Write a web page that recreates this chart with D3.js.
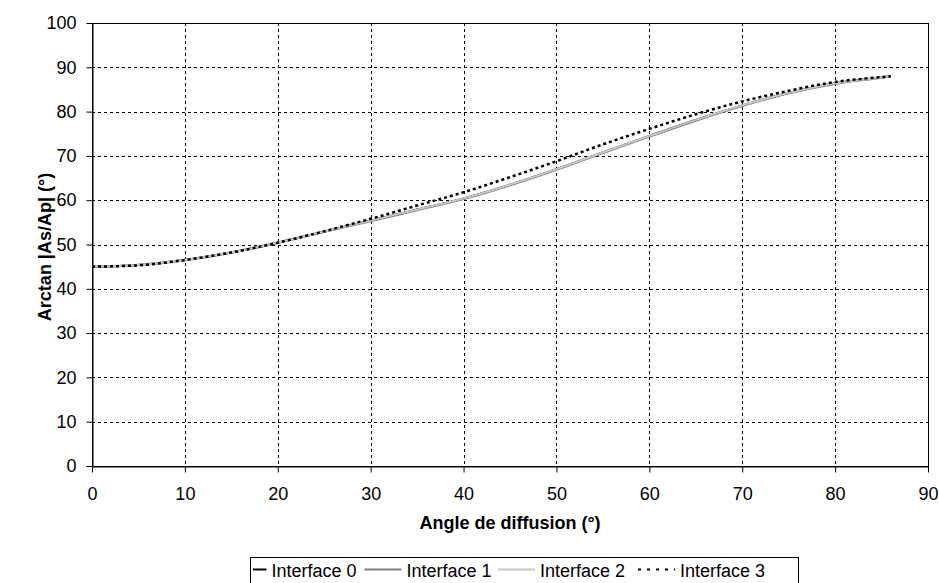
<!DOCTYPE html>
<html><head><meta charset="utf-8">
<script src="https://cdn.jsdelivr.net/npm/d3@7"></script>
<style>body{margin:0;background:#fff;} svg{display:block;font-family:"Liberation Sans",Arial,sans-serif;}</style>
</head><body><svg id="c" width="939" height="583"></svg>
<script>
const angles = [0,5,10,15,20,25,30,35,40,45,50,55,60,65,70,75,80,85,86];
const interface0 = [45.0,45.4,46.5,48.2,50.4,52.9,55.4,57.9,60.4,63.5,67.0,70.8,74.5,78.1,81.4,84.2,86.4,87.7,88.0];
const interface1 = [45.0,45.4,46.5,48.2,50.4,52.9,55.3,57.8,60.3,63.4,66.9,70.7,74.4,78.0,81.3,84.2,86.3,87.7,88.0];
const interface2 = [45.0,45.4,46.5,48.2,50.4,52.9,55.4,57.9,60.4,63.5,67.0,70.8,74.5,78.1,81.4,84.2,86.4,87.7,88.0];
const interface3 = [45.0,45.3,46.5,48.2,50.4,53.0,55.8,58.8,61.8,65.2,68.8,72.6,76.1,79.4,82.3,84.7,86.7,87.8,88.0];
const seriesNames = ["Interface 0","Interface 1","Interface 2","Interface 3"];
const xTicks = [0,10,20,30,40,50,60,70,80,90];
const yTicks = [0,10,20,30,40,50,60,70,80,90,100];

const svg = d3.select("#c");
const L=92,R=928,T=23,B=466;
const x = d3.scaleLinear().domain([0,90]).range([L,R]);
const y = d3.scaleLinear().domain([0,100]).range([B,T]);

// grid
const g = svg.append("g");
g.selectAll(".gx").data(xTicks.slice(1,-1)).join("line")
  .attr("x1",d=>Math.round(x(d))+0.5).attr("x2",d=>Math.round(x(d))+0.5).attr("y1",T).attr("y2",B)
  .attr("stroke","#000").attr("stroke-dasharray","3,3");
g.selectAll(".gy").data(yTicks.slice(1,-1)).join("line")
  .attr("y1",d=>Math.round(y(d))+0.5).attr("y2",d=>Math.round(y(d))+0.5).attr("x1",L).attr("x2",R)
  .attr("stroke","#000").attr("stroke-dasharray","3,3");
svg.append("rect").attr("x",L+0.5).attr("y",T+0.5).attr("width",R-L).attr("height",B-T)
  .attr("fill","none").attr("stroke","#000");

// axes
const xAxis = d3.axisBottom(x).tickValues(xTicks).tickSizeInner(6).tickSizeOuter(0).tickPadding(15);
const yAxis = d3.axisLeft(y).tickValues(yTicks).tickSizeInner(6).tickSizeOuter(0).tickPadding(10);
const gx = svg.append("g").attr("transform",`translate(0,${B+0.5})`).call(xAxis);
const gy = svg.append("g").attr("transform",`translate(${L+0.5},0)`).call(yAxis);
[gx,gy].forEach(a=>{a.select(".domain").attr("stroke","#000");
  a.selectAll("text").attr("font-size",18).attr("fill","#000").attr("font-family","Liberation Sans, Arial, sans-serif");
  a.selectAll("line").attr("stroke","#000");});

// lines
const datasets = [interface0,interface1,interface2,interface3];
const styles = [
  {stroke:"#000",w:2,dash:null,legDash:null},
  {stroke:"#808080",w:2.5,dash:null,legDash:null},
  {stroke:"#c8c8c8",w:1.8,dash:null,legDash:null},
  {stroke:"#000",w:2.5,dash:"3,3",legDash:"3,6"}];
const line = d3.line().x(d=>x(d[0])).y(d=>y(d[1])).curve(d3.curveMonotoneX);
datasets.forEach((ds,i)=>{
  svg.append("path").datum(angles.map((a,j)=>[a,ds[j]]))
    .attr("d",line).attr("fill","none").attr("stroke",styles[i].stroke)
    .attr("stroke-width",styles[i].w).attr("stroke-dasharray",styles[i].dash);
});

// titles
svg.append("text").attr("x",(L+R)/2).attr("y",529).attr("text-anchor","middle")
  .attr("font-size",18).attr("font-weight","bold").text("Angle de diffusion (°)");
svg.append("text").attr("transform",`translate(51,247) rotate(-90)`).attr("text-anchor","middle")
  .attr("font-size",18).attr("font-weight","bold").text("Arctan |As/Ap| (°)");

// legend
const lg = svg.append("g");
const lx=250, ly=557, lw=548, lh=30;
lg.append("rect").attr("x",lx+0.5).attr("y",ly+0.5).attr("width",lw).attr("height",lh).attr("fill","#fff").attr("stroke","#000");
const textX=[271.5, 406.5, 540, 680];
seriesNames.forEach((n,i)=>{
  const x2 = textX[i]-5, x1 = Math.max(lx+3, x2-37);
  lg.append("line").attr("x1",x1).attr("x2",x2).attr("y1",569.5).attr("y2",569.5)
    .attr("stroke",styles[i].stroke).attr("stroke-width",Math.min(styles[i].w,2)).attr("stroke-dasharray",styles[i].legDash);
  lg.append("text").attr("x",textX[i]).attr("y",577).attr("font-size",18).text(n);
});
</script></body></html>
